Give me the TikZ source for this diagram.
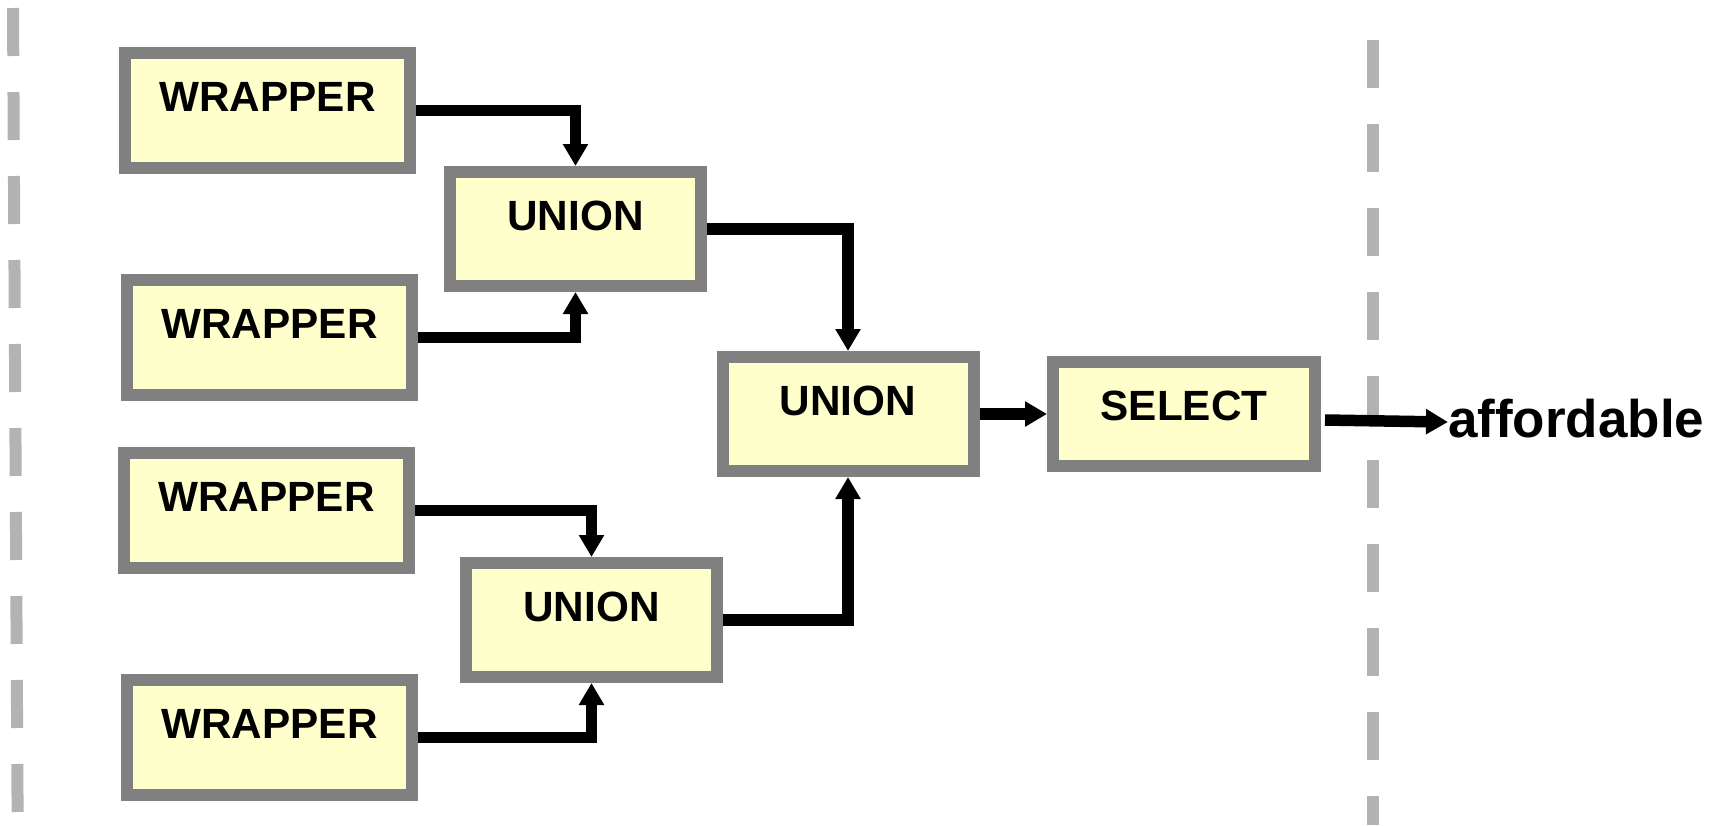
\documentclass[tikz,border=0pt]{standalone}
\usepackage{fontspec}
\setmainfont{Liberation Sans}
\usetikzlibrary{arrows.meta}
\definecolor{boxgray}{HTML}{808080}
\definecolor{boxfill}{HTML}{FFFFCC}
\definecolor{dashgray}{HTML}{B3B3B3}
\begin{document}
\begin{tikzpicture}[x=1pt,y=-1pt,
  opbox/.style={draw=boxgray, fill=boxfill, line width=12pt, rectangle,
    inner xsep=0pt, inner ysep=0pt, text height=58pt,
    font=\fontsize{42.3}{50}\selectfont\bfseries},
  wbox/.style={opbox, minimum width=285pt, text depth=57pt},
  ubox/.style={opbox, minimum width=251pt, text depth=56pt},
  sbox/.style={opbox, minimum width=262pt, text depth=46pt},
  conn/.style={line width=11.5pt, -{Triangle[width=24pt,length=22pt]}},
  sepline/.style={draw=dashgray, line width=12pt, dash pattern=on 48pt off 36pt},
  outlabel/.style={inner sep=0pt, font=\fontsize{53}{60}\selectfont\bfseries}
]
\useasboundingbox (0,0) rectangle (1727,825);

% separators
\coordinate (lt) at (13,8);
\coordinate (lb) at (17.6,812);
\coordinate (rt) at (1373,40);
\coordinate (rb) at (1373,825);
\draw[sepline] (lt) -- (lb);
\draw[sepline] (rt) -- (rb);

% boxes
\node[wbox] (W1) at (267.5,110.5) {WRAPPER};
\node[wbox] (W2) at (269.5,337.5) {WRAPPER};
\node[wbox] (W3) at (266.5,510.5) {WRAPPER};
\node[wbox] (W4) at (269.5,737.5) {WRAPPER};
\node[ubox] (U1) at (575.5,229) {UNION};
\node[ubox] (U2) at (848,414) {UNION};
\node[ubox] (U3) at (591.5,620) {UNION};
\node[sbox] (S) at (1184,414) {SELECT};
\node[outlabel, anchor=base west] (A) at (1448,437) {affordable};

% connectors
\draw[conn] (W1.east) -| (U1.north);
\draw[conn] (W2.east) -| (U1.south);
\draw[conn] (W3.east) -| (U3.north);
\draw[conn] (W4.east) -| (U3.south);
\draw[conn] (U1.east) -| (U2.north);
\draw[conn] (U3.east) -| (U2.south);
\draw[conn] (U2.east) -- (S.west);
\draw[conn] ([xshift=4pt,yshift=-6pt]S.east) -- ([yshift=-4pt]A.west);
\end{tikzpicture}
\end{document}
